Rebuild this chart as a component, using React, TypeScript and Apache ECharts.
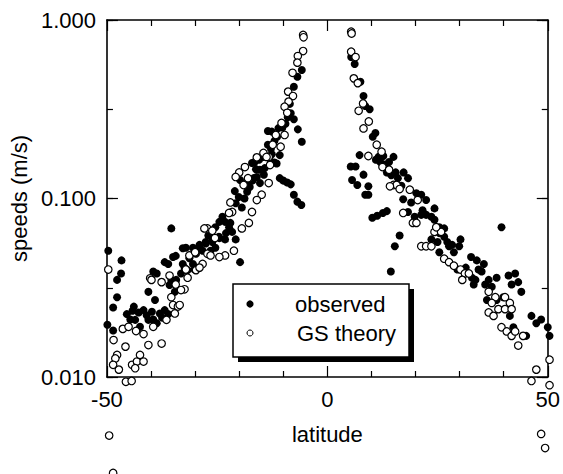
import React, { useEffect, useRef } from "react";
import * as echarts from "echarts";

// [latitude, speed (m/s)]
const observedSouth: number[][] = [
  [-49.7, 0.051], [-46.7, 0.045], [-46.8, 0.038], [-47.7, 0.035], [-47.7, 0.028], [-48.6, 0.0245],
  [-49.9, 0.0196], [-48.6, 0.0182], [-45.5, 0.0225], [-44.7, 0.021], [-43.9, 0.0248], [-42.8, 0.023],
  [-41.7, 0.0237], [-43.6, 0.0209], [-42.5, 0.0191], [-40.6, 0.0209], [-39.5, 0.021], [-38.0, 0.0227],
  [-36.9, 0.0237], [-36.1, 0.0225], [-38.7, 0.020], [-44.2, 0.0235], [-41.0, 0.0222], [-39.8, 0.0232],
  [-37.5, 0.0215], [-40.6, 0.030], [-39.1, 0.027], [-39.5, 0.039], [-38.7, 0.038], [-36.9, 0.044],
  [-36.1, 0.043], [-35.0, 0.047], [-35.8, 0.0328], [-34.6, 0.030], [-35.4, 0.035], [-34.3, 0.035],
  [-33.2, 0.038], [-32.4, 0.041], [-32.8, 0.0526], [-31.3, 0.0463], [-30.5, 0.043], [-29.8, 0.049],
  [-29.0, 0.0536], [-27.6, 0.056], [-26.1, 0.0585], [-24.6, 0.061], [-35.4, 0.068], [-34.4, 0.0477],
  [-31.7, 0.0397], [-29.8, 0.041], [-32.1, 0.053], [-30.5, 0.053], [-29.0, 0.055], [-27.6, 0.057],
  [-26.1, 0.057], [-24.5, 0.060], [-23.2, 0.059], [-20.8, 0.059], [-31.2, 0.048], [-28.3, 0.051],
  [-26.5, 0.051], [-25.4, 0.053], [-19.8, 0.044], [-30.1, 0.040], [-32.8, 0.043], [-25.4, 0.069],
  [-24.5, 0.074], [-23.2, 0.074], [-23.8, 0.079], [-22.3, 0.069], [-21.6, 0.065], [-22.0, 0.073],
  [-19.4, 0.089], [-20.8, 0.094], [-20.1, 0.102], [-18.2, 0.109], [-17.6, 0.116], [-15.3, 0.122],
  [-16.7, 0.130], [-16.0, 0.132], [-14.4, 0.136], [-15.3, 0.145], [-14.2, 0.148], [-12.0, 0.159],
  [-19.8, 0.127], [-17.1, 0.158], [-15.5, 0.165], [-16.5, 0.160], [-14.5, 0.171], [-12.6, 0.177],
  [-10.8, 0.175], [-13.5, 0.200], [-12.8, 0.190], [-13.5, 0.239], [-12.6, 0.237], [-11.1, 0.248],
  [-10.2, 0.250], [-8.5, 0.339], [-8.3, 0.300], [-7.6, 0.278], [-6.7, 0.244], [-5.8, 0.208],
  [-7.6, 0.423], [-6.8, 0.481], [-5.8, 0.525], [-11.5, 0.157], [-10.8, 0.130], [-10.0, 0.126],
  [-9.1, 0.123], [-8.3, 0.120], [-7.6, 0.105], [-6.8, 0.096], [-5.9, 0.092], [-21.0, 0.110],
  [-18.8, 0.100], [-18.4, 0.122], [-17.0, 0.126], [-16.2, 0.146], [-13.2, 0.168], [-12.0, 0.210],
  [-11.4, 0.222], [-9.5, 0.262], [-9.0, 0.285], [-23.0, 0.064], [-27.0, 0.062],
];

const observedNorth: number[][] = [
  [5.4, 0.62], [6.2, 0.567], [7.5, 0.451], [8.2, 0.375], [8.6, 0.33], [9.6, 0.316], [10.9, 0.233],
  [10.3, 0.222], [7.3, 0.175], [11.6, 0.171], [12.7, 0.173], [15.0, 0.171], [5.3, 0.151], [6.4, 0.151],
  [8.2, 0.136], [5.6, 0.127], [6.8, 0.119], [9.3, 0.117], [8.6, 0.105], [9.3, 0.105], [10.2, 0.078],
  [11.3, 0.080], [12.6, 0.083], [13.5, 0.085], [16.4, 0.062], [15.3, 0.054], [14.4, 0.039],
  [11.0, 0.165], [12.0, 0.160], [13.0, 0.155], [13.5, 0.140], [14.5, 0.135], [15.5, 0.140], [16.0, 0.130],
  [17.3, 0.140], [18.3, 0.130], [17.2, 0.099], [20.2, 0.107], [21.3, 0.105], [22.4, 0.098], [24.3, 0.088],
  [18.3, 0.084], [19.8, 0.079], [21.3, 0.081], [22.4, 0.081], [23.6, 0.079], [24.3, 0.076], [21.6, 0.086],
  [25.4, 0.069], [26.5, 0.068], [23.6, 0.059], [25.0, 0.057], [25.4, 0.050], [26.5, 0.061], [27.2, 0.057],
  [28.7, 0.050], [30.2, 0.059], [28.3, 0.055], [27.6, 0.054], [29.9, 0.054], [25.4, 0.064], [29.5, 0.040],
  [31.4, 0.041], [32.6, 0.047], [33.9, 0.045], [34.3, 0.040], [33.6, 0.035], [33.2, 0.033], [35.5, 0.043],
  [36.6, 0.035], [38.4, 0.036], [35.0, 0.039], [35.8, 0.033], [37.3, 0.032], [41.1, 0.037], [42.6, 0.038],
  [41.8, 0.033], [43.3, 0.034], [44.0, 0.030], [36.2, 0.027], [38.4, 0.027], [39.9, 0.028], [41.4, 0.022],
  [42.2, 0.019], [45.1, 0.017], [46.3, 0.022], [47.4, 0.020], [48.5, 0.021], [50.0, 0.019], [50.4, 0.017],
  [39.5, 0.069], [32.8, 0.036], [14.0, 0.160], [16.8, 0.118], [19.0, 0.095],
];

const theorySouth: number[][] = [
  [-49.7, 0.040], [-46.4, 0.0186], [-48.5, 0.0161], [-45.8, 0.0148], [-47.7, 0.0133], [-48.1, 0.0127],
  [-48.6, 0.0117], [-47.3, 0.011], [-44.3, 0.0117], [-43.2, 0.0122], [-43.6, 0.0112], [-41.7, 0.0122],
  [-42.5, 0.0133], [-40.6, 0.0151], [-37.6, 0.0154], [-39.5, 0.0191], [-41.7, 0.0174], [-43.4, 0.0181],
  [-45.1, 0.0191], [-45.7, 0.0094], [-44.4, 0.0095], [-49.5, 0.0047], [-48.6, 0.0029], [-35.0, 0.0253],
  [-33.9, 0.0248], [-34.6, 0.0227], [-35.4, 0.028], [-36.5, 0.0209], [-40.2, 0.0357], [-37.6, 0.034],
  [-35.8, 0.037], [-34.4, 0.033], [-32.4, 0.031], [-33.5, 0.0253], [-39.9, 0.035], [-33.2, 0.0307],
  [-31.3, 0.048], [-29.8, 0.0397], [-27.2, 0.049], [-28.3, 0.043], [-26.5, 0.048], [-27.2, 0.068],
  [-27.9, 0.068], [-26.1, 0.066], [-21.6, 0.084], [-22.3, 0.083], [-21.2, 0.051], [-23.2, 0.048],
  [-24.5, 0.047], [-29.0, 0.041], [-31.7, 0.036], [-32.1, 0.040], [-19.0, 0.119], [-14.9, 0.105],
  [-16.0, 0.098], [-17.1, 0.084], [-17.8, 0.073], [-19.4, 0.068], [-13.0, 0.154], [-13.3, 0.122],
  [-18.7, 0.150], [-20.0, 0.140], [-20.8, 0.132], [-14.5, 0.180], [-16.0, 0.170], [-5.5, 0.824],
  [-5.4, 0.800], [-5.5, 0.670], [-6.7, 0.628], [-6.8, 0.577], [-7.9, 0.506], [-8.9, 0.397], [-7.8, 0.375],
  [-8.8, 0.349], [-9.7, 0.327], [-9.1, 0.302], [-10.4, 0.265], [-11.7, 0.227], [-9.7, 0.227],
  [-10.6, 0.195], [-13.3, 0.171], [-13.8, 0.171], [-22.0, 0.095], [-18.0, 0.130], [-12.4, 0.200],
  [-25.5, 0.060], [-30.0, 0.050],
];

const theoryNorth: number[][] = [
  [5.4, 0.86], [5.5, 0.84], [5.4, 0.664], [6.4, 0.62], [6.0, 0.471], [6.9, 0.443], [8.1, 0.341],
  [7.1, 0.31], [9.4, 0.27], [8.2, 0.247], [11.2, 0.2], [9.3, 0.173], [12.3, 0.183], [15.0, 0.119],
  [15.7, 0.119], [16.4, 0.113], [14.2, 0.117], [18.7, 0.112], [20.5, 0.098], [17.2, 0.083], [19.4, 0.073],
  [20.2, 0.073], [12.5, 0.150], [14.0, 0.145], [21.3, 0.054], [22.4, 0.054], [23.6, 0.054], [24.3, 0.065],
  [25.8, 0.065], [24.7, 0.069], [26.5, 0.046], [27.6, 0.044], [28.7, 0.042], [30.2, 0.040], [31.2, 0.038],
  [30.6, 0.035], [32.1, 0.038], [36.6, 0.030], [38.1, 0.028], [37.3, 0.026], [36.6, 0.023], [37.7, 0.022],
  [38.8, 0.024], [40.3, 0.024], [41.4, 0.026], [40.3, 0.028], [41.8, 0.024], [39.5, 0.019], [40.7, 0.018],
  [41.8, 0.017], [42.6, 0.018], [43.3, 0.015], [44.4, 0.017], [50.4, 0.0125], [47.4, 0.011], [46.3, 0.0095],
  [50.4, 0.009], [48.5, 0.0048], [49.4, 0.004],
];

const xLabelValues = [-50, 0, 50];
const seriesNames = ["observed", "GS theory"];
const yTitle = "speeds (m/s)";
const xTitle = "latitude";

const FONT = "'Liberation Sans', Arial, Helvetica, sans-serif";

export default function App() {
  const ref = useRef<HTMLDivElement>(null);
  useEffect(() => {
    if (!ref.current) return;
    const chart = echarts.init(ref.current, undefined, { renderer: "svg" });
    const line = { show: true, onZero: false, lineStyle: { color: "#000", width: 1.6 } };
    const tick = { show: true, inside: true, length: 11, lineStyle: { color: "#000", width: 1.2 } };
    const xCommon = {
      type: "value",
      min: -50,
      max: 50,
      interval: 50,
      axisLine: line,
      axisTick: tick,
      minorTick: { show: true, splitNumber: 5, length: 6, lineStyle: { color: "#000", width: 1.2 } },
      splitLine: { show: false },
      minorSplitLine: { show: false },
    };
    const halfDecade = {
      type: "value",
      min: -2,
      max: 0,
      interval: 0.5,
      axisLine: { show: false, onZero: false },
      axisTick: { show: true, inside: true, length: 6, lineStyle: { color: "#000", width: 1.2 } },
      axisLabel: { show: false },
      splitLine: { show: false },
    };
    chart.setOption({
      animation: false,
      backgroundColor: "#fff",
      grid: { left: 103, right: 13, top: 20, bottom: 97, containLabel: false },
      xAxis: [
        {
          ...xCommon,
          position: "bottom",
          name: xTitle,
          nameLocation: "middle",
          nameGap: 46,
          nameTextStyle: { fontFamily: FONT, fontSize: 22, color: "#000" },
          axisLabel: {
            show: true,
            margin: 11,
            fontFamily: FONT,
            fontSize: 22,
            color: "#000",
            formatter: (v: number) => (xLabelValues.includes(v) ? String(v) : ""),
          },
        },
        { ...xCommon, position: "top", axisLabel: { show: false } },
      ],
      yAxis: [
        {
          type: "log",
          logBase: 10,
          min: 0.01,
          max: 1,
          position: "left",
          axisLine: line,
          axisTick: tick,
          splitLine: { show: false },
          axisLabel: {
            margin: 11,
            fontFamily: FONT,
            fontSize: 22,
            color: "#000",
            formatter: (v: number) => v.toFixed(3),
          },
          name: yTitle,
          nameLocation: "middle",
          nameRotate: 90,
          nameGap: 70,
          nameTextStyle: { fontFamily: FONT, fontSize: 22, color: "#000" },
        },
        {
          type: "log",
          logBase: 10,
          min: 0.01,
          max: 1,
          position: "right",
          axisLine: line,
          axisTick: tick,
          splitLine: { show: false },
          axisLabel: { show: false },
        },
        { ...halfDecade, position: "left" },
        { ...halfDecade, position: "right" },
      ],
      series: [
        {
          name: seriesNames[0],
          type: "scatter",
          clip: false,
          symbol: "circle",
          symbolSize: 8,
          itemStyle: { color: "#000", opacity: 1 },
          data: [...observedSouth, ...observedNorth],
          z: 2,
        },
        {
          name: seriesNames[1],
          type: "scatter",
          clip: false,
          symbol: "circle",
          symbolSize: 7.5,
          itemStyle: { color: "#fff", borderColor: "#000", borderWidth: 1.2, opacity: 1 },
          data: [...theorySouth, ...theoryNorth],
          z: 3,
        },
      ],
      graphic: [
        { type: "rect", shape: { x: 238, y: 289, width: 176, height: 73 }, style: { fill: "#000" }, z: 10 },
        {
          type: "rect",
          shape: { x: 233, y: 284, width: 176, height: 73 },
          style: { fill: "#fff", stroke: "#000", lineWidth: 1.5 },
          z: 11,
        },
        { type: "circle", shape: { cx: 250, cy: 304, r: 3.6 }, style: { fill: "#000" }, z: 12 },
        {
          type: "circle",
          shape: { cx: 250, cy: 333, r: 3 },
          style: { fill: "#fff", stroke: "#000", lineWidth: 1 },
          z: 12,
        },
        {
          type: "text",
          x: 295,
          y: 304,
          style: { text: seriesNames[0], fontFamily: FONT, fontSize: 22, fill: "#000", verticalAlign: "middle" },
          z: 12,
        },
        {
          type: "text",
          x: 297,
          y: 333,
          style: { text: seriesNames[1], fontFamily: FONT, fontSize: 22, fill: "#000", verticalAlign: "middle" },
          z: 12,
        },
      ],
    });
    return () => chart.dispose();
  }, []);
  return <div ref={ref} style={{ position: "absolute", left: 0, top: 0, width: 563, height: 474 }} />;
}
